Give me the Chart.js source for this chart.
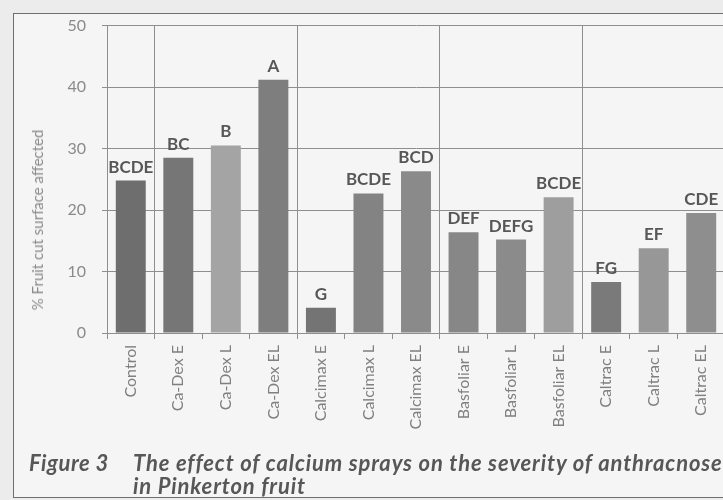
<!DOCTYPE html>
<html>
<head>
<meta charset="utf-8">
<script src="https://cdn.jsdelivr.net/npm/chart.js@4/dist/chart.umd.min.js"></script>
<style>
html,body{margin:0;padding:0;width:723px;height:500px;overflow:hidden;background:#ececec;}
#frame{position:absolute;left:13px;top:13px;width:760px;height:485px;border:1.5px solid #6f6f6f;background:#f5f5f5;box-sizing:border-box;}
#wrap{position:absolute;left:0;top:0;width:727px;height:500px;}
#ytitle{position:absolute;left:37px;top:220px;transform:translate(-50%,-50%) rotate(-90deg);font:15px Lato,sans-serif;color:#8a8a8a;white-space:nowrap;}
#fig{position:absolute;left:29px;top:452px;font:italic bold 22px Lato,sans-serif;letter-spacing:0.5px;color:#575757;white-space:nowrap;line-height:22.5px;}
#cap{position:absolute;left:133px;top:452px;font:italic bold 22px Lato,sans-serif;letter-spacing:0.85px;color:#575757;white-space:nowrap;line-height:22.5px;}
</style>
</head>
<body>
<div id="frame"></div>
<div id="wrap"><canvas id="c" width="727" height="500"></canvas></div>
<div id="ytitle">% Fruit cut surface affected</div>
<div id="fig">Figure 3</div>
<div id="cap">The effect of calcium sprays on the severity of anthracnose<br>in Pinkerton fruit</div>
<script>
const categories = ['Control','Ca-Dex E','Ca-Dex L','Ca-Dex EL','Calcimax E','Calcimax L','Calcimax EL','Basfoliar E','Basfoliar L','Basfoliar EL','Caltrac E','Caltrac L','Caltrac EL'];
const values = [24.8, 28.5, 30.5, 41.2, 4.1, 22.7, 26.3, 16.4, 15.2, 22.1, 8.3, 13.8, 19.5];
const letters = ['BCDE','BC','B','A','G','BCDE','BCD','DEF','DEFG','BCDE','FG','EF','CDE'];
const barColors = ['#6e6e6e','#767676','#a4a4a4','#7e7e7e','#747474','#838383','#8a8a8a','#878787','#8b8b8b','#9e9e9e','#7a7a7a','#979797','#8e8e8e'];
const yTicks = [0, 10, 20, 30, 40, 50];
const groupBreaks = [1, 4, 7, 10];

const lineColor = '#8e8e8e';

const letterPlugin = {
  id: 'letters',
  afterDatasetsDraw(chart) {
    const meta = chart.getDatasetMeta(0);
    const ctx = chart.ctx;
    ctx.save();
    ctx.font = 'bold 17px Lato, sans-serif';
    ctx.fillStyle = '#575757';
    ctx.textAlign = 'center';
    ctx.textBaseline = 'bottom';
    meta.data.forEach((bar, i) => {
      ctx.fillText(letters[i], bar.x, bar.y - 5);
    });
    ctx.restore();
  }
};

new Chart(document.getElementById('c'), {
  type: 'bar',
  data: {
    labels: categories,
    datasets: [{
      data: values,
      backgroundColor: barColors,
      borderWidth: 0,
      barPercentage: 0.63,
      categoryPercentage: 1.0
    }]
  },
  options: {
    responsive: false,
    devicePixelRatio: 1,
    animation: false,
    layout: { padding: { left: 0, top: 25, right: 2, bottom: 0 } },
    plugins: { legend: { display: false }, tooltip: { enabled: false } },
    scales: {
      x: {
        offset: true,
        grid: {
          offset: true,
          color: (ctx) => groupBreaks.includes(ctx.index) ? lineColor : 'rgba(0,0,0,0)',
          tickColor: lineColor,
          tickLength: 6,
          lineWidth: 1
        },
        border: { display: true, color: lineColor, width: 1 },
        ticks: {
          maxRotation: 90,
          minRotation: 90,
          autoSkip: false,
          padding: 6,
          color: '#808080',
          font: { family: 'Lato, sans-serif', size: 16 }
        },
        afterFit: (scale) => { scale.height = 167; }
      },
      y: {
        min: 0,
        max: 50,
        afterBuildTicks: (scale) => { scale.ticks = yTicks.map(v => ({ value: v })); },
        grid: { color: lineColor, tickColor: lineColor, tickLength: 5, lineWidth: 1 },
        border: { display: true, color: lineColor, width: 1 },
        ticks: {
          padding: 16,
          color: '#8a8a8a',
          font: { family: 'Lato, sans-serif', size: 16 }
        },
        afterFit: (scale) => { scale.width = 107; }
      }
    }
  },
  plugins: [letterPlugin]
});
</script>
</body>
</html>
